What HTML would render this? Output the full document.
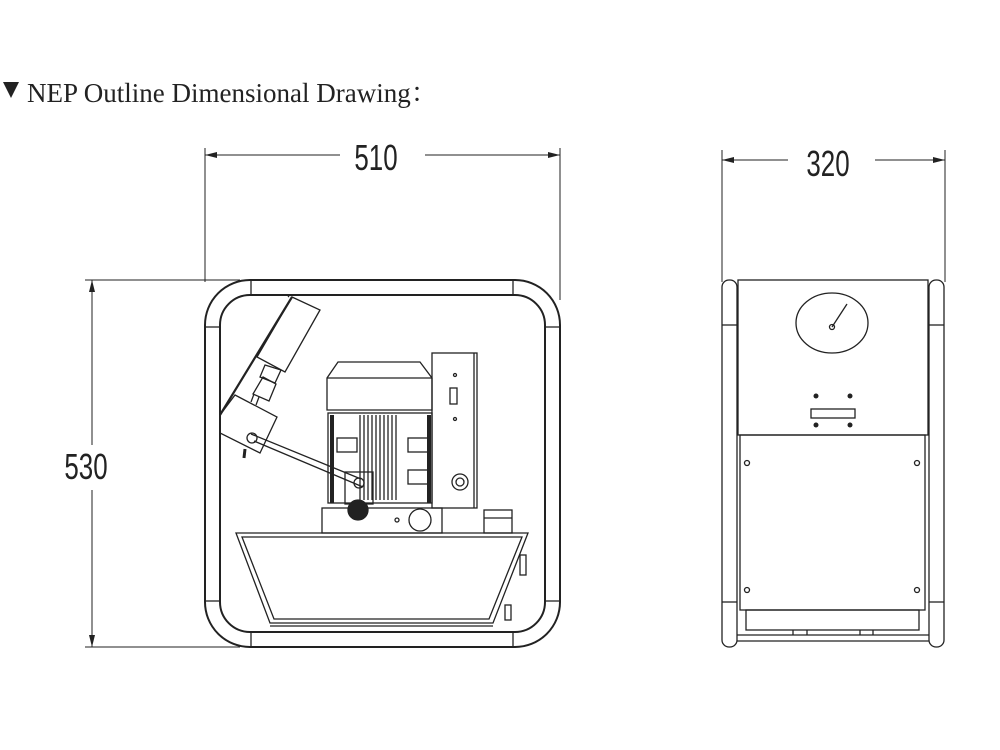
<!DOCTYPE html>
<html><head><meta charset="utf-8"><style>
html,body{margin:0;padding:0;background:#fff}
svg{display:block}
</style></head><body>
<svg width="1000" height="750" viewBox="0 0 1000 750" xmlns="http://www.w3.org/2000/svg">
<g fill="none" stroke="#222" stroke-width="1">
<line x1="205" y1="148" x2="205" y2="282"/>
<line x1="560" y1="148" x2="560" y2="300"/>
<line x1="205" y1="155" x2="340" y2="155"/>
<line x1="425" y1="155" x2="560" y2="155"/>
<line x1="722" y1="150" x2="722" y2="282"/>
<line x1="945" y1="150" x2="945" y2="282"/>
<line x1="722" y1="160" x2="788" y2="160"/>
<line x1="875" y1="160" x2="945" y2="160"/>
<line x1="85" y1="280" x2="240" y2="280"/>
<line x1="85" y1="647" x2="240" y2="647"/>
<line x1="92" y1="280" x2="92" y2="445"/>
<line x1="92" y1="490" x2="92" y2="647"/>
</g>
<g fill="#222">
<polygon points="205,155 217,152 217,158"/><polygon points="560,155 548,152 548,158"/>
<polygon points="722,160 734,157 734,163"/><polygon points="945,160 933,157 933,163"/>
<polygon points="92,280 89,292 95,292"/><polygon points="92,647 89,635 95,635"/>
<polygon points="3,82 19,82 11,98"/>
</g>
<g font-family="Liberation Sans, sans-serif" font-size="36" fill="#222" text-anchor="middle">
<text transform="translate(376,170) scale(0.72,1)">510</text>
<text transform="translate(828,176) scale(0.72,1)">320</text>
<text transform="translate(86,479) scale(0.72,1)">530</text>
</g>
<text x="27" y="102" font-family="Liberation Serif, 'Noto Serif CJK SC', serif" font-size="27" fill="#222">NEP Outline Dimensional Drawing：</text>

<g fill="none" stroke="#222" stroke-width="2">
<rect x="205" y="280" width="355" height="367" rx="45"/>
<rect x="220" y="295" width="325" height="337" rx="30"/>
</g>
<g fill="none" stroke="#222" stroke-width="1.3">
<line x1="251" y1="280" x2="251" y2="295"/><line x1="513" y1="280" x2="513" y2="295"/>
<line x1="251" y1="632" x2="251" y2="647"/><line x1="513" y1="632" x2="513" y2="647"/>
<line x1="205" y1="327" x2="220" y2="327"/><line x1="545" y1="327" x2="560" y2="327"/>
<line x1="205" y1="601" x2="220" y2="601"/><line x1="545" y1="601" x2="560" y2="601"/>
<!-- gauge -->
<polygon points="292,297 320,310 285,372 257,357"/>
<line x1="292" y1="297" x2="220" y2="415" stroke-width="2.2"/>
<line x1="289" y1="296" x2="288" y2="297"/>
<polygon points="265,365 281,370 275,383 260,377"/>
<polygon points="263,377 276,384 269,401 253,394"/>
<line x1="254" y1="394" x2="251" y2="402"/><line x1="259" y1="397" x2="256" y2="405"/>
<polygon points="235,395 277,417 260,453 220,433 220,415"/>
<line x1="245" y1="449" x2="244" y2="458" stroke-width="3"/>
<!-- rod -->
<line x1="251" y1="434" x2="361" y2="479"/>
<line x1="254" y1="441" x2="363" y2="487"/>
<circle cx="252" cy="438" r="5"/>
<!-- motor cap -->
<path d="M327,410 V378 L338,362 H420 L432,378 V410 Z"/>
<line x1="327" y1="378" x2="432" y2="378"/>
<rect x="328" y="413" width="104" height="90"/>
<line x1="360" y1="415" x2="360" y2="500"/><line x1="364" y1="415" x2="364" y2="500"/>
<line x1="368" y1="415" x2="368" y2="500"/><line x1="372" y1="415" x2="372" y2="500"/>
<line x1="376" y1="415" x2="376" y2="500"/><line x1="380" y1="415" x2="380" y2="500"/>
<line x1="384" y1="415" x2="384" y2="500"/><line x1="388" y1="415" x2="388" y2="500"/>
<line x1="392" y1="415" x2="392" y2="500"/><line x1="396" y1="415" x2="396" y2="500"/>
<rect x="337" y="438" width="20" height="14"/><rect x="408" y="438" width="20" height="14"/>
<rect x="408" y="470" width="20" height="14"/>
<rect x="345" y="472" width="28" height="32"/>
<circle cx="359" cy="483" r="5"/>
<rect x="432" y="353" width="45" height="155"/>
<line x1="474" y1="353" x2="474" y2="508"/>
<rect x="450" y="388" width="7" height="16"/>
<circle cx="455" cy="375" r="1.5"/><circle cx="455" cy="419" r="1.5"/>
<circle cx="460" cy="482" r="8"/><circle cx="460" cy="482" r="4"/>
<rect x="322" y="508" width="120" height="25"/>
<circle cx="358" cy="510" r="10" fill="#222"/>
<circle cx="420" cy="520" r="11"/>
<circle cx="397" cy="520" r="2"/>
<rect x="484" y="510" width="28" height="23"/>
<line x1="484" y1="518" x2="512" y2="518"/>
<polygon points="236,533 528,533 493,623 270,623"/>
<polygon points="242,537 522,537 489,619 274,619"/>
<line x1="270" y1="626" x2="493" y2="626"/>
<rect x="520" y="555" width="6" height="20"/><rect x="505" y="605" width="6" height="15"/>

<rect x="722" y="280" width="15" height="367" rx="7"/>
<rect x="929" y="280" width="15" height="367" rx="7"/>
<line x1="722" y1="325" x2="737" y2="325"/><line x1="929" y1="325" x2="944" y2="325"/>
<line x1="722" y1="602" x2="737" y2="602"/><line x1="929" y1="602" x2="944" y2="602"/>
<rect x="738" y="280" width="190" height="155"/>
<rect x="740" y="435" width="185" height="175"/>
<rect x="746" y="610" width="173" height="20"/>
<line x1="737" y1="635" x2="929" y2="635"/><line x1="737" y1="641" x2="929" y2="641"/>
<line x1="793" y1="630" x2="793" y2="635"/><line x1="807" y1="630" x2="807" y2="635"/>
<line x1="860" y1="630" x2="860" y2="635"/><line x1="873" y1="630" x2="873" y2="635"/>
<ellipse cx="832" cy="323" rx="36" ry="30"/>
<line x1="832" y1="327" x2="847" y2="304"/>
<circle cx="832" cy="327" r="2.5"/>
<rect x="811" y="409" width="44" height="9"/>
<circle cx="747" cy="463" r="2.5"/><circle cx="917" cy="463" r="2.5"/>
<circle cx="747" cy="590" r="2.5"/><circle cx="917" cy="590" r="2.5"/>
</g>
<g fill="#222">
<circle cx="816" cy="396" r="2.5"/><circle cx="850" cy="396" r="2.5"/>
<circle cx="816" cy="425" r="2.5"/><circle cx="850" cy="425" r="2.5"/>
<rect x="330" y="415" width="4" height="88"/><rect x="427" y="415" width="4" height="88"/>
</g>
</svg>
</body></html>
